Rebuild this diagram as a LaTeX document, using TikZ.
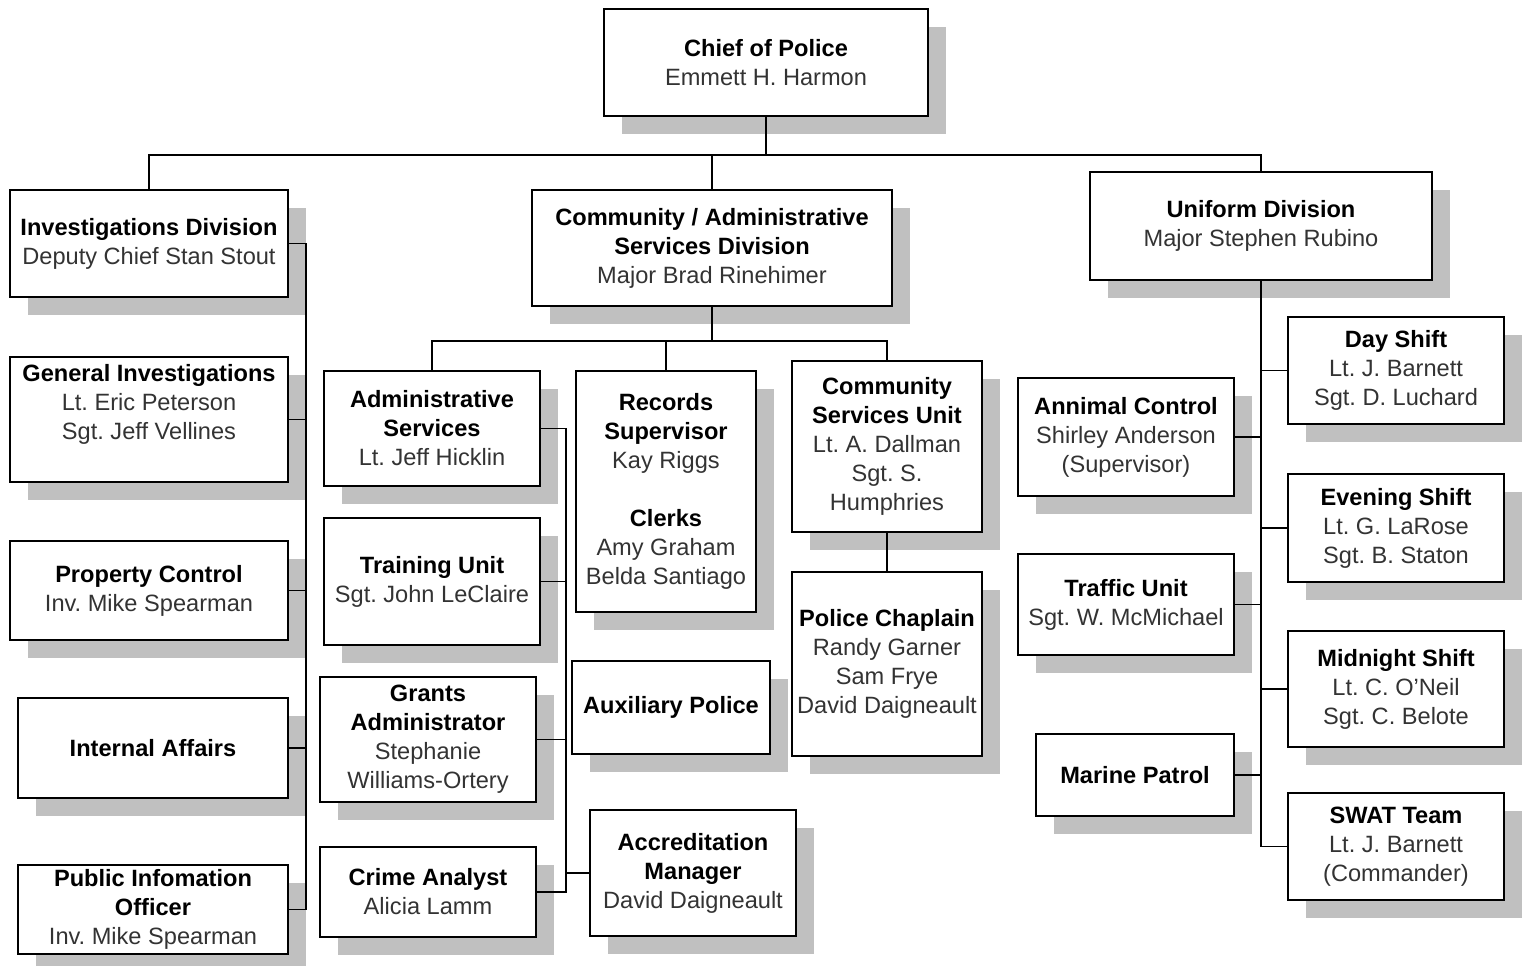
\documentclass[tikz,border=0pt]{standalone}
\usepackage{fontspec}
\setmainfont{Liberation Sans}
\usetikzlibrary{shadows}
\definecolor{shadowgray}{HTML}{C0C0C0}
\definecolor{nametext}{HTML}{333333}
\tikzset{
  box/.style={draw=black, line width=1.6pt, fill=white, inner sep=0pt, align=center,
    font=\fontsize{23.6}{29}\selectfont\frenchspacing,
    drop shadow={shadow xshift=18pt, shadow yshift=-18pt, fill=shadowgray, opacity=1}},
  conn/.style={line width=1.6pt, draw=black},
}
\newcommand{\ttl}[1]{\textbf{#1}}
\newcommand{\nme}[1]{\textcolor{nametext}{#1}}
\frenchspacing
\begin{document}
\begin{tikzpicture}[x=1pt,y=-1pt]
\useasboundingbox (0,0) rectangle (1527,966);
% top level
\node[box, minimum width=324pt, minimum height=107pt] (chief) at (766,62.5) {\ttl{Chief of Police}\\\nme{Emmett H. Harmon}};
\node[box, minimum width=278pt, minimum height=107pt] (inv) at (149,243.5) {\ttl{Investigations Division}\\\nme{Deputy Chief Stan Stout}};
\node[box, minimum width=360pt, minimum height=116pt] (cas) at (712,248) {\ttl{Community / Administrative}\\\ttl{Services Division}\\\nme{Major Brad Rinehimer}};
\node[box, minimum width=342pt, minimum height=108pt] (uni) at (1261,226) {\ttl{Uniform Division}\\\nme{Major Stephen Rubino}};
% investigations column
\node[box, minimum width=278pt, minimum height=125pt, text depth=36pt] (gen) at (149,419.5) {\ttl{General Investigations}\\\nme{Lt. Eric Peterson}\\\nme{Sgt. Jeff Vellines}};
\node[box, minimum width=278pt, minimum height=99pt] (prop) at (149,590.5) {\ttl{Property Control}\\\nme{Inv. Mike Spearman}};
\node[box, minimum width=270pt, minimum height=100pt] (ia) at (153,748) {\ttl{Internal Affairs}};
\node[box, minimum width=270pt, minimum height=89pt] (pio) at (153,909.5) {\ttl{Public Infomation}\\\ttl{Officer}\\\nme{Inv. Mike Spearman}};
% admin column
\node[box, minimum width=216pt, minimum height=115pt] (adm) at (432,428.5) {\ttl{Administrative}\\\ttl{Services}\\\nme{Lt. Jeff Hicklin}};
\node[box, minimum width=216pt, minimum height=127pt] (trn) at (432,581.5) {\ttl{Training Unit}\\\nme{Sgt. John LeClaire}};
\node[box, minimum width=216pt, minimum height=125pt] (grt) at (428,739.5) {\ttl{Grants}\\\ttl{Administrator}\\\nme{Stephanie}\\\nme{Williams-Ortery}};
\node[box, minimum width=216pt, minimum height=90pt] (crm) at (428,892) {\ttl{Crime Analyst}\\\nme{Alicia Lamm}};
\node[box, minimum width=180pt, minimum height=241pt] (rec) at (666,491.5) {\ttl{Records}\\\ttl{Supervisor}\\\nme{Kay Riggs}\\[29pt]\ttl{Clerks}\\\nme{Amy Graham}\\\nme{Belda Santiago}};
\node[box, minimum width=198pt, minimum height=93pt] (aux) at (671,707.5) {\ttl{Auxiliary Police}};
\node[box, minimum width=206pt, minimum height=126pt] (acc) at (693,873) {\ttl{Accreditation}\\\ttl{Manager}\\\nme{David Daigneault}};
\node[box, minimum width=190pt, minimum height=171pt] (csu) at (887,446.5) {\ttl{Community}\\\ttl{Services Unit}\\\nme{Lt. A. Dallman}\\\nme{Sgt. S.}\\\nme{Humphries}};
\node[box, minimum width=190pt, minimum height=184pt] (chap) at (887,664) {\ttl{Police Chaplain}\\\nme{Randy Garner}\\\nme{Sam Frye}\\\nme{David Daigneault}};
% uniform column
\node[box, minimum width=216pt, minimum height=107pt] (day) at (1396,370.5) {\ttl{Day Shift}\\\nme{Lt. J. Barnett}\\\nme{Sgt. D. Luchard}};
\node[box, minimum width=216pt, minimum height=108pt] (eve) at (1396,528) {\ttl{Evening Shift}\\\nme{Lt. G. LaRose}\\\nme{Sgt. B. Staton}};
\node[box, minimum width=216pt, minimum height=116pt] (mid) at (1396,689) {\ttl{Midnight Shift}\\\nme{Lt. C. O'Neil}\\\nme{Sgt. C. Belote}};
\node[box, minimum width=216pt, minimum height=107pt] (swat) at (1396,846.5) {\ttl{SWAT Team}\\\nme{Lt. J. Barnett}\\\nme{(Commander)}};
\node[box, minimum width=216pt, minimum height=118pt] (ani) at (1126,437) {\ttl{Annimal Control}\\\nme{Shirley Anderson}\\\nme{(Supervisor)}};
\node[box, minimum width=216pt, minimum height=101pt] (trf) at (1126,604.5) {\ttl{Traffic Unit}\\\nme{Sgt. W. McMichael}};
\node[box, minimum width=198pt, minimum height=82pt] (mar) at (1135,775) {\ttl{Marine Patrol}};
% connector helpers
\coordinate (bus) at (766,155);
\coordinate (iv) at (306,0);
\coordinate (cb) at (712,341);
\coordinate (av) at (566,0);
% top connectors
\draw[conn] (chief.south) -- (bus);
\draw[conn] (inv.north) |- (bus) -| (uni.north);
\draw[conn] (cas.north) -- (cas.north |- bus);
% investigations
\draw[conn] (inv.east) -| (iv |- pio.east) -- (pio.east);
\draw[conn] (gen.east) -- (gen.east -| iv);
\draw[conn] (prop.east) -- (prop.east -| iv);
\draw[conn] (ia.east) -- (ia.east -| iv);
% community / admin
\draw[conn] (cas.south) -- (cb);
\draw[conn] (adm.north) |- (cb) -| (csu.north);
\draw[conn] (rec.north) -- (rec.north |- cb);
\draw[conn] (csu.south) -- (chap.north);
\draw[conn] (adm.east) -| (av |- crm.east) -- (crm.east);
\draw[conn] (trn.east) -- (trn.east -| av);
\draw[conn] (grt.east) -- (grt.east -| av);
\draw[conn] (acc.west) -- (acc.west -| av);
% uniform
\draw[conn] (uni.south) -- (uni.south |- swat.west) -- (swat.west);
\draw[conn] (day.west) -- (day.west -| uni.south);
\draw[conn] (eve.west) -- (eve.west -| uni.south);
\draw[conn] (mid.west) -- (mid.west -| uni.south);
\draw[conn] (ani.east) -- (ani.east -| uni.south);
\draw[conn] (trf.east) -- (trf.east -| uni.south);
\draw[conn] (mar.east) -- (mar.east -| uni.south);
\end{tikzpicture}
\end{document}
